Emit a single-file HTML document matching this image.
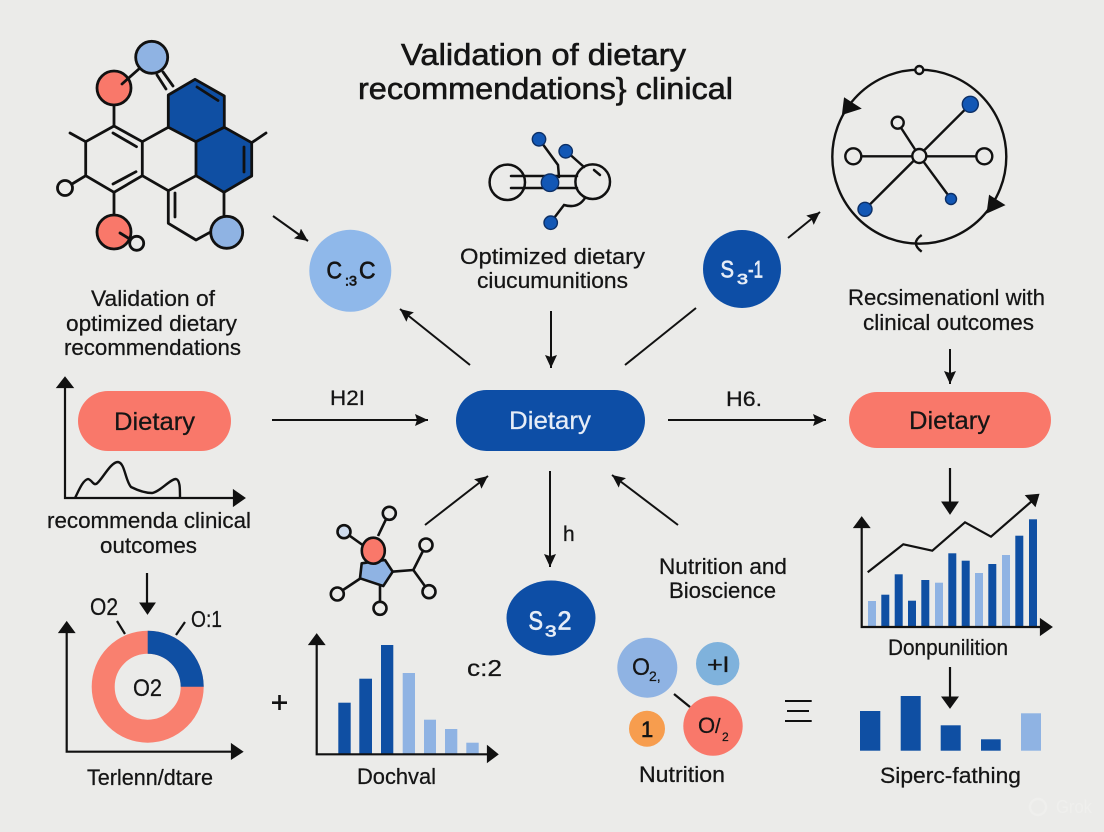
<!DOCTYPE html>
<html><head><meta charset="utf-8"><style>
html,body{margin:0;padding:0;background:#ebebe9}
svg{display:block}
text{font-family:"Liberation Sans",sans-serif;fill:#151515;stroke:#151515;stroke-width:.25}
.w{fill:#e6edf7;stroke:#e6edf7}
.b{stroke-width:.7}
</style></head><body>
<svg width="1104" height="832" viewBox="0 0 1104 832" xmlns="http://www.w3.org/2000/svg">
<defs>
<marker id="a" markerWidth="15" markerHeight="14" refX="13" refY="6" orient="auto" markerUnits="userSpaceOnUse"><path d="M0 0L13 6L0 12L2 6z" fill="#111"/></marker>
</defs>
<rect width="1104" height="832" fill="#ebebe9"/>

<!-- title -->
<text x="401" y="65" font-size="31" textLength="285" lengthAdjust="spacingAndGlyphs" style="stroke-width:.6">Validation of dietary</text>
<text x="358" y="99" font-size="31" textLength="375" lengthAdjust="spacingAndGlyphs" style="stroke-width:.6">recommendations} clinical</text>

<!-- hex molecule -->
<g stroke="#111" stroke-width="2.8" fill="none" stroke-linejoin="round" stroke-linecap="round">
<path d="M195 79.3L224.3 96V127.3L196 141.7L168.3 127.3V95Z" fill="#0f4fa3"/>
<path d="M224.3 127.3L251.7 142.7V176L224 192.3L196 175.7V141.7Z" fill="#0f4fa3"/>
<path d="M168.3 127.3L142.3 141.7V175.7L168.3 190.7L196 175.7"/>
<path d="M142.3 141.7L114 126L85.7 141.7V175.7L114 192.3L142.3 175.7"/>
<path d="M168.3 190.7V223.3L196 240L210 232.3M224 192.3V216.7"/>
<path d="M114 126V105M114 192.3V215M85.7 141.7L70 133M85.7 175.7L72 184M251.7 142.7L266 133"/>
<path d="M113 133L136.500 146.700M113 184L136 171.700M175 193V217M244 147V172"/>
<path d="M197 87L218 100.500"/>
<path d="M157 75L166 89M163 72L173 86"/>
<circle cx="114" cy="88" r="17" fill="#f9786a"/>
<path d="M122 84L140 68"/>
<circle cx="151.700" cy="57.300" r="16" fill="#8fb3e3"/>
<circle cx="114" cy="232" r="17" fill="#f9786a"/>
<path d="M120 233L133 241"/>
<circle cx="136.700" cy="243.300" r="7" fill="#ebebe9"/>
<circle cx="65" cy="188" r="7.500" fill="#ebebe9"/>
<circle cx="226.700" cy="232.300" r="16" fill="#8fb3e3"/>
</g>

<!-- center-top node icon -->
<g stroke="#111" stroke-width="2.500" fill="none" stroke-linecap="round">
<circle cx="507.300" cy="182.300" r="17.700"/>
<circle cx="592.700" cy="181.700" r="17.300"/>
<path d="M511 176H577M511 188H577"/>
<path d="M539 139L558 165L559 177M566 151L584 167"/>
<path d="M551 222L564 205Q578 209 585 198"/>
<path d="M594 170L600 175"/>
<g fill="#1257b5" stroke="#0c2f66" stroke-width="1.400">
<circle cx="550" cy="182.700" r="8.700"/>
<circle cx="539" cy="139.300" r="6.700"/>
<circle cx="565.700" cy="151.300" r="6.700"/>
<circle cx="550.700" cy="222.700" r="6.700"/>
</g>
</g>
<text x="460" y="264" font-size="22" textLength="185" lengthAdjust="spacingAndGlyphs">Optimized dietary</text>
<text x="477" y="288" font-size="22" textLength="151" lengthAdjust="spacingAndGlyphs">ciucumunitions</text>

<!-- big circle -->
<g stroke="#111" stroke-width="2.400" fill="none">
<circle cx="919.300" cy="156.700" r="87"/>
<path d="M853 156.300H985M897.700 122.700L919.300 156L951 199M970.300 104.300L865 209.300"/>
<path d="M921.700 235Q910 243 921.700 251.700"/>
<path d="M845 99.300L859 108.300L843.300 113.300Z" fill="#111"/>
<path d="M990 196.700L1003 205L988 211.700Z" fill="#111"/>
<circle cx="919.300" cy="70" r="4" fill="#ebebe9"/>
<circle cx="919.300" cy="156" r="7" fill="#ebebe9"/>
<circle cx="853.300" cy="156.300" r="8" fill="#ebebe9"/>
<circle cx="984.300" cy="156.300" r="8" fill="#ebebe9"/>
<circle cx="897.700" cy="122.700" r="6" fill="#ebebe9"/>
<g fill="#1257b5" stroke="#0c2f66" stroke-width="1.400">
<circle cx="970.300" cy="104.300" r="8"/>
<circle cx="865" cy="209.300" r="7"/>
<circle cx="951" cy="199" r="5.500"/>
</g>
</g>

<!-- hub shapes -->
<circle cx="350.300" cy="270.800" r="41" fill="#8fb8ea"/>
<text x="326.500" y="278.500" font-size="24" textLength="15.500" lengthAdjust="spacingAndGlyphs" class="b">C</text><text x="345" y="285.500" font-size="14" textLength="12" lengthAdjust="spacingAndGlyphs" class="b">:3</text><text x="359" y="278.500" font-size="24" textLength="16.500" lengthAdjust="spacingAndGlyphs" class="b">C</text>
<circle cx="742" cy="269" r="39" fill="#0d4ea6"/>
<text x="720.500" y="277.500" font-size="24" textLength="13.500" lengthAdjust="spacingAndGlyphs" class="w b">S</text><text x="737" y="284" font-size="15" textLength="11" lengthAdjust="spacingAndGlyphs" class="w b">3</text><text x="748" y="277.500" font-size="24" textLength="15" lengthAdjust="spacingAndGlyphs" class="w b">-1</text>
<ellipse cx="551" cy="618" rx="44.500" ry="37.500" fill="#0d4ea6"/>
<text x="528.500" y="629.500" font-size="26" textLength="14.500" lengthAdjust="spacingAndGlyphs" class="w b">S</text><text x="545" y="636.500" font-size="16" textLength="11.500" lengthAdjust="spacingAndGlyphs" class="w b">3</text><text x="557.500" y="629.500" font-size="26" textLength="14" lengthAdjust="spacingAndGlyphs" class="w b">2</text>

<rect x="456" y="390" width="189" height="61" rx="30.500" fill="#0d4ea6"/>
<text x="509" y="429" font-size="25" textLength="82" lengthAdjust="spacingAndGlyphs" class="w">Dietary</text>
<rect x="78" y="391" width="153" height="60" rx="30" fill="#f9786a"/>
<text x="114" y="430" font-size="25" textLength="81" lengthAdjust="spacingAndGlyphs">Dietary</text>
<rect x="849" y="392" width="202" height="56" rx="28" fill="#f9786a"/>
<text x="909" y="429" font-size="25" textLength="81" lengthAdjust="spacingAndGlyphs">Dietary</text>

<!-- arrows -->
<g stroke="#111" stroke-width="2" fill="none" marker-end="url(#a)">
<path d="M273 216L308 241"/>
<path d="M470 365L400 309"/>
<path d="M551 311V368"/>
<path d="M788 238L820 212"/>
<path d="M272 420H428"/>
<path d="M668 420H826"/>
<path d="M950 349V384"/>
<path d="M550 471V567"/>
<path d="M678 525L612 475"/>
<path d="M425 525L488 476"/>
</g>
<path d="M625 365L696 308" stroke="#111" stroke-width="2" fill="none"/>
<g stroke="#111" stroke-width="2.200" fill="#111">
<path d="M147 573V604"/>
<path d="M140 603H155L147.500 614Z" stroke-width="1"/>
<path d="M950 468V503"/>
<path d="M942 502H958L950 514Z" stroke-width="1"/>
<path d="M950 667V698"/>
<path d="M942 697H958L950 708Z" stroke-width="1"/>
</g>

<!-- labels -->
<text x="91" y="306" font-size="22" textLength="124" lengthAdjust="spacingAndGlyphs">Validation of</text>
<text x="66" y="331" font-size="22" textLength="171" lengthAdjust="spacingAndGlyphs">optimized dietary</text>
<text x="64" y="355" font-size="22" textLength="177" lengthAdjust="spacingAndGlyphs">recommendations</text>
<text x="330" y="405" font-size="21" textLength="35" lengthAdjust="spacingAndGlyphs">H2I</text>
<text x="726" y="406" font-size="21" textLength="36" lengthAdjust="spacingAndGlyphs">H6.</text>
<text x="848" y="305" font-size="22" textLength="197" lengthAdjust="spacingAndGlyphs">Recsimenationl with</text>
<text x="863" y="330" font-size="22" textLength="171" lengthAdjust="spacingAndGlyphs">clinical outcomes</text>
<text x="47" y="528" font-size="22" textLength="204" lengthAdjust="spacingAndGlyphs">recommenda clinical</text>
<text x="100" y="553" font-size="22" textLength="97" lengthAdjust="spacingAndGlyphs">outcomes</text>
<text x="563" y="541" font-size="21">h</text>
<text x="659" y="574" font-size="22" textLength="128" lengthAdjust="spacingAndGlyphs">Nutrition and</text>
<text x="669" y="598" font-size="22" textLength="107" lengthAdjust="spacingAndGlyphs">Bioscience</text>
<text x="888" y="655" font-size="22" textLength="120" lengthAdjust="spacingAndGlyphs">Donpunilition</text>
<text x="880" y="783" font-size="22" textLength="141" lengthAdjust="spacingAndGlyphs">Siperc-fathing</text>
<text x="639" y="782" font-size="22" textLength="86" lengthAdjust="spacingAndGlyphs">Nutrition</text>
<text x="87" y="785" font-size="22" textLength="126" lengthAdjust="spacingAndGlyphs">Terlenn/dtare</text>
<text x="357" y="784" font-size="22" textLength="79" lengthAdjust="spacingAndGlyphs">Dochval</text>
<text x="467" y="676" font-size="23" textLength="35" lengthAdjust="spacingAndGlyphs">c:2</text>
<text x="90" y="615" font-size="24" textLength="28" lengthAdjust="spacingAndGlyphs">O2</text>
<text x="191" y="627" font-size="23" textLength="31" lengthAdjust="spacingAndGlyphs">O:1</text>

<!-- left curve chart -->
<g stroke="#111" stroke-width="2.200" fill="none">
<path d="M65 385V498H235"/>
<path d="M58 387L65 378L72 387Z" fill="#111"/>
<path d="M234 491L244 498L234 505Z" fill="#111"/>
<path d="M75 498C79 490 83 480 88 479C92 480 93 485 96 484C101 482 110 462 118 462C125 463 125 480 131 487C137 490 145 493 152 493C160 492 170 479 176 479C180 480 180 488 180 498" stroke-width="2.400"/>
</g>

<!-- donut -->
<circle cx="147.700" cy="686.700" r="44.500" fill="none" stroke="#f9806f" stroke-width="23"/>
<path d="M147.700 630.700A56 56 0 0 1 203.700 686.700H180.700A33 33 0 0 0 147.700 653.700Z" fill="#0f4fa3"/>
<text x="133" y="696" font-size="24" textLength="29" lengthAdjust="spacingAndGlyphs">O2</text>
<g stroke="#111" stroke-width="2.200" fill="none">
<path d="M66.700 630V751.700H233"/>
<path d="M60 632L66.700 622.700L73.500 632Z" fill="#111"/>
<path d="M232 745L241.700 751.700L232 758Z" fill="#111"/>
<path d="M117 621L125 634M185 622L176 635"/>
</g>
<path d="M272 702.700H287M279.500 695V710" stroke="#111" stroke-width="2.600"/>

<!-- bar chart -->
<g fill="#0f4fa3">
<rect x="338.300" y="702.700" width="12.400" height="51.600"/>
<rect x="359.300" y="678.700" width="12.700" height="75.600"/>
<rect x="381" y="645" width="12.300" height="109.300"/>
</g>
<g fill="#8fb3e3">
<rect x="402.700" y="673" width="12.300" height="81.300"/>
<rect x="424" y="719.700" width="12" height="34.600"/>
<rect x="445" y="729" width="12.300" height="25.300"/>
<rect x="466.300" y="742.700" width="12.400" height="11.600"/>
</g>
<g stroke="#111" stroke-width="2.200" fill="none">
<path d="M316.700 640V754.300H488"/>
<path d="M310 644L316.700 635L323.500 644Z" fill="#111"/>
<path d="M488 747L497 754.300L488 761Z" fill="#111"/>
</g>

<!-- small molecule -->
<g stroke="#111" stroke-width="2.600" fill="none" stroke-linejoin="round">
<path d="M344 531.700L364 546M389 513L378 536M392 571.700L413.300 570L426 545M413.300 570L429 591.700M380 586V608M361 578L337 594"/>
<path d="M361.700 563.300L385 560L392.700 571.700L383.300 586L360 578.300Z" fill="#8fb3e3"/>
<ellipse cx="373.300" cy="550.700" rx="11.500" ry="13" fill="#f9786a"/>
<circle cx="344" cy="531.700" r="6.500" fill="#cfdcee"/>
<circle cx="389.300" cy="513.300" r="6.500" fill="#ebebe9"/>
<circle cx="426" cy="545" r="6.500" fill="#ebebe9"/>
<circle cx="429" cy="591.700" r="6.500" fill="#ebebe9"/>
<circle cx="380" cy="608.300" r="6.500" fill="#ebebe9"/>
<circle cx="337.300" cy="594" r="6.500" fill="#ebebe9"/>
</g>

<!-- nutrition circles -->
<circle cx="647.300" cy="667.700" r="30" fill="#8fb3e3"/>
<circle cx="717.700" cy="663.700" r="21.700" fill="#7fb2dc"/>
<circle cx="647" cy="728.700" r="18" fill="#f79d4e"/>
<circle cx="713" cy="726" r="29.700" fill="#f9786a"/>
<path d="M674 694L690 707" stroke="#111" stroke-width="2.200"/>
<text x="632" y="675" font-size="24" textLength="18" lengthAdjust="spacingAndGlyphs">O</text><text x="649" y="681" font-size="14">2,</text>
<text x="707" y="672" font-size="21" textLength="22" lengthAdjust="spacingAndGlyphs">+l</text>
<text x="641" y="737" font-size="22" style="stroke-width:.6">1</text>
<text x="698" y="733" font-size="22">O</text><text x="715" y="733" font-size="20">/</text><text x="722" y="741" font-size="12">2</text>
<path d="M785 701H811.700M787 711H809M785 721H811.700" stroke="#111" stroke-width="2"/>

<!-- right bar chart -->
<g fill="#0f4fa3">
<rect x="881.300" y="594.700" width="8" height="32.300"/>
<rect x="894.700" y="574.300" width="8" height="52.700"/>
<rect x="908" y="600.700" width="8" height="26.300"/>
<rect x="921.300" y="580" width="8" height="47"/>
<rect x="948.300" y="553.300" width="8" height="73.700"/>
<rect x="961.700" y="560.700" width="8" height="66.300"/>
<rect x="988.300" y="564" width="8" height="63"/>
<rect x="1015.300" y="535.700" width="8" height="91.300"/>
<rect x="1029" y="519.300" width="8" height="107.700"/>
</g>
<g fill="#8fb3e3">
<rect x="868" y="601" width="8" height="26"/>
<rect x="935" y="582.700" width="8" height="44.300"/>
<rect x="975" y="573" width="8" height="54"/>
<rect x="1002" y="555" width="8" height="72"/>
</g>
<g stroke="#111" stroke-width="2.200" fill="none">
<path d="M861.700 525V627H1043"/>
<path d="M855 527L861.700 518L868.500 527Z" fill="#111"/>
<path d="M1041 620L1051 627L1041 634Z" fill="#111"/>
<path d="M867.700 572.300L903.300 544.300L932.300 550.700L965 522.300L991 536.700L1036 497.500"/>
<path d="M1027 496L1038 495L1035 505Z" fill="#111"/>
</g>

<!-- bottom right bars -->
<rect x="860" y="711" width="20.300" height="39.700" fill="#0f4fa3"/>
<rect x="900.700" y="696" width="20" height="54.700" fill="#0f4fa3"/>
<rect x="940.700" y="725.300" width="20" height="25.400" fill="#0f4fa3"/>
<rect x="981" y="739.300" width="19.700" height="11.400" fill="#0f4fa3"/>
<rect x="1021" y="713.300" width="20" height="37.400" fill="#8fb3e3"/>

<circle cx="1038" cy="807" r="8" fill="none" stroke="#efefed" stroke-width="2.500"/>
<text x="1056" y="813" font-size="18" textLength="36" lengthAdjust="spacingAndGlyphs" style="fill:#efefed;stroke:none">Grok</text>
</svg>
</body></html>
